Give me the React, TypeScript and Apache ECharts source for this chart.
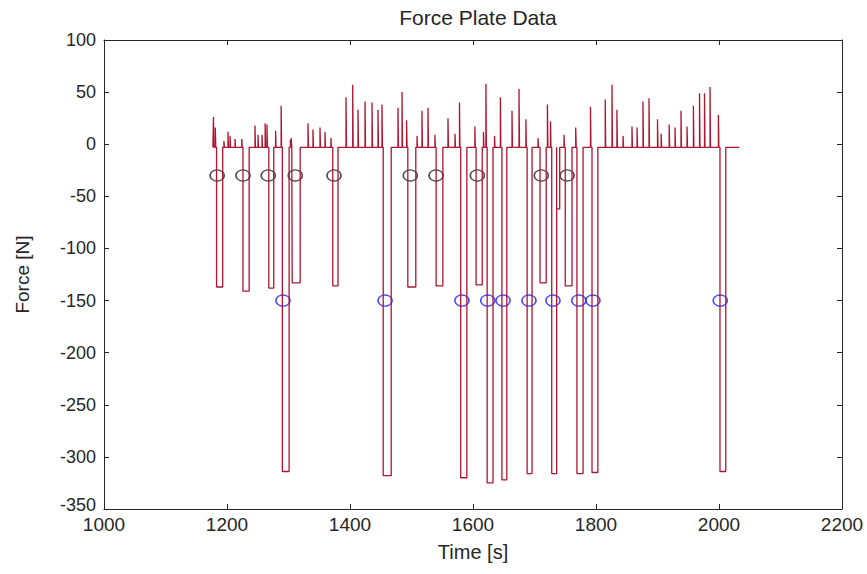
import React, { useEffect, useRef } from "react";
import * as echarts from "echarts";

// ---- data ----
const BASELINE = -3;
const LINE_START = 1177;
const LINE_END = 2033;

// upward spikes (time [s], peak force [N])
const spikeTimes = [
  1178, 1181, 1195, 1201.6, 1204.9, 1213, 1224, 1245.5, 1250.4, 1256.9, 1262, 1265, 1279, 1288,
  1303, 1304.5, 1331.7, 1339.8, 1351.2, 1359.3, 1369,
  1393.5, 1404.4, 1413, 1424.4, 1435.8, 1445.5, 1452, 1478, 1484.6, 1492, 1509, 1517, 1526.8,
  1538, 1559.3, 1570.7, 1578, 1603, 1617, 1621, 1635, 1644.5, 1663.4, 1674.8, 1686, 1705.7,
  1721, 1726, 1748, 1767, 1791, 1815, 1826, 1834, 1844, 1858.5, 1866.7, 1876.4, 1886.2, 1900,
  1906, 1919, 1928.5, 1938.2, 1948, 1958.4, 1968.3, 1976.4, 1985.4, 1999,
];
const spikePeaks = [
  26, 16, 3, 12, 8, 5, 5, 18, 9, 9, 20, 19, 13, 37,
  4, 6, 20, 14, 16, 12, 6,
  45, 57, 33, 41, 40, 33, 38, 35, 50, 23, 8, 32, 35,
  9, 25, 10, 40, 17, 12, 58, 8, 45, 32, 53, 24, 6,
  38, 22, 9, 16, 36, 43, 57, 33, 8, 17, 16, 41, 44, 24,
  10, 19, 16, 32, 17, 37, 49, 49, 55, 28,
];

// downward pulses (start [s], end [s], depth [N])
const pulseStarts = [
  1183, 1226, 1268, 1306, 1372, 1494, 1540, 1605, 1709, 1750,
  1290, 1454, 1580, 1623, 1647, 1688, 1728, 1736, 1769, 1793.5, 2001.6,
];
const pulseEnds = [
  1193, 1236, 1276, 1319, 1380.5, 1507, 1551, 1615, 1719, 1761,
  1301, 1467, 1590, 1632.5, 1655, 1696, 1736, 1741, 1779, 1803, 2011,
];
const pulseDepths = [
  -137, -141, -138, -133, -136, -137, -136, -135, -133, -136,
  -314, -318, -320, -325, -322, -316, -316, -62, -316, -315, -314,
];

// detected events
const blackMarkerTimes = [1184, 1226, 1267, 1311, 1374, 1498, 1540, 1607, 1711, 1753];
const blackMarkerLevel = -30;
const blueMarkerTimes = [1291, 1457, 1582, 1624, 1649, 1691, 1730, 1772, 1795, 2002];
const blueMarkerLevel = -150;

const xTicks = { min: 1000, max: 2200, interval: 200 };
const yTicks = { min: -350, max: 100, interval: 50 };

function buildSignal(): [number, number][] {
  const events: { t: number; pts: [number, number][] }[] = [];
  spikeTimes.forEach((t, i) => {
    const p = spikePeaks[i];
    events.push({
      t,
      pts: [
        [t, BASELINE],
        [t, p],
        [t + 0.8, p],
        [t + 0.8, BASELINE],
      ],
    });
  });
  pulseStarts.forEach((s, i) => {
    const e = pulseEnds[i];
    const d = pulseDepths[i];
    events.push({
      t: s,
      pts: [
        [s, BASELINE],
        [s, d],
        [e, d],
        [e, BASELINE],
      ],
    });
  });
  events.sort((a, b) => a.t - b.t);
  const out: [number, number][] = [[LINE_START, BASELINE]];
  events.forEach((ev) => ev.pts.forEach((p) => out.push(p)));
  out.push([LINE_END, BASELINE]);
  return out;
}

const FONT = "'Liberation Sans', Arial, Helvetica, sans-serif";
const AXIS_COLOR = "#262626";
const TEXT_COLOR = "#262626";

export default function App() {
  const ref = useRef<HTMLDivElement>(null);
  useEffect(() => {
    if (!ref.current) return;
    const chart = echarts.init(ref.current, undefined, { renderer: "svg" });
    const tickStyle = { inside: true, length: 5, lineStyle: { color: AXIS_COLOR, width: 1 } };
    const lineStyle = { show: true, onZero: false, lineStyle: { color: AXIS_COLOR, width: 1 } };
    chart.setOption({
      animation: false,
      backgroundColor: "#ffffff",
      title: {
        text: "Force Plate Data",
        left: 473,
        textAlign: "center",
        top: 2,
        textStyle: { fontFamily: FONT, fontSize: 21, fontWeight: "normal", color: TEXT_COLOR },
      },
      grid: { left: 104, right: 25, top: 40, bottom: 65, containLabel: false },
      xAxis: [
        {
          type: "value",
          position: "bottom",
          ...xTicks,
          axisLine: lineStyle,
          axisTick: tickStyle,
          splitLine: { show: false },
          axisLabel: {
            fontFamily: FONT,
            fontSize: 19,
            color: TEXT_COLOR,
            margin: 6,
            formatter: (v: number) => String(v),
          },
          name: "Time [s]",
          nameLocation: "middle",
          nameGap: 33,
          nameTextStyle: { fontFamily: FONT, fontSize: 20, color: TEXT_COLOR },
        },
        {
          type: "value",
          position: "top",
          ...xTicks,
          axisLine: lineStyle,
          axisTick: tickStyle,
          splitLine: { show: false },
          axisLabel: { show: false },
        },
      ],
      yAxis: [
        {
          type: "value",
          position: "left",
          ...yTicks,
          axisLine: lineStyle,
          axisTick: tickStyle,
          splitLine: { show: false },
          axisLabel: {
            fontFamily: FONT,
            fontSize: 18,
            color: TEXT_COLOR,
            margin: 8,
            formatter: (v: number) => (v === yTicks.min ? `{lo|${v}}` : String(v)),
            rich: { lo: { fontFamily: FONT, fontSize: 18, color: TEXT_COLOR, padding: [0, 0, 8, 0] } },
          },
          name: "Force [N]",
          nameLocation: "middle",
          nameGap: 72,
          nameRotate: 90,
          nameTextStyle: { fontFamily: FONT, fontSize: 19, color: TEXT_COLOR },
        },
        {
          type: "value",
          position: "right",
          ...yTicks,
          axisLine: lineStyle,
          axisTick: tickStyle,
          splitLine: { show: false },
          axisLabel: { show: false },
        },
      ],
      series: [
        {
          type: "line",
          data: buildSignal(),
          showSymbol: false,
          symbol: "none",
          lineStyle: { color: "#ad1530", width: 1.3 },
          silent: true,
        },
        {
          type: "scatter",
          data: blackMarkerTimes.map((t) => [t, blackMarkerLevel]),
          symbol: "circle",
          symbolSize: [14, 11],
          itemStyle: { color: "rgba(0,0,0,0)", borderColor: "#222222", borderWidth: 1.5 },
          silent: true,
        },
        {
          type: "scatter",
          data: blueMarkerTimes.map((t) => [t, blueMarkerLevel]),
          symbol: "circle",
          symbolSize: [14, 11],
          itemStyle: { color: "rgba(0,0,0,0)", borderColor: "#2020ff", borderWidth: 1.5 },
          silent: true,
        },
      ],
    });
    return () => chart.dispose();
  }, []);
  return (
    <div
      ref={ref}
      style={{ position: "absolute", left: 0, top: 0, width: "867px", height: "574px" }}
    />
  );
}
